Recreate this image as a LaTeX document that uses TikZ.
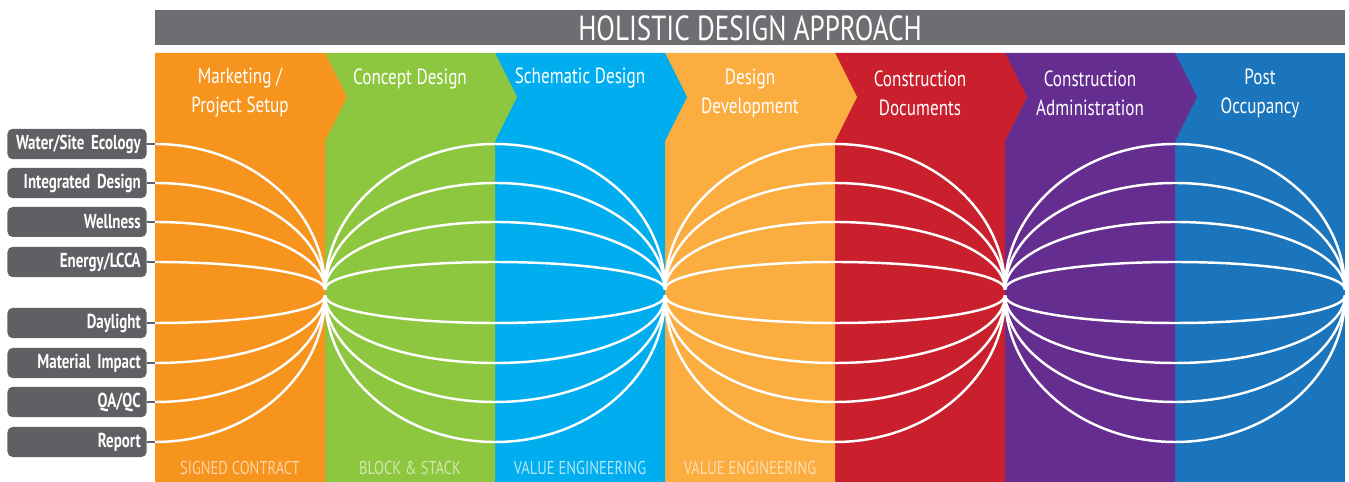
\documentclass[tikz,border=0pt]{standalone}
\usepackage{fontspec}
\setmainfont{PT Sans}
\newfontfamily\condfont[FakeStretch=0.78]{PT Sans}
\newfontfamily\narrowfont[FakeStretch=0.74]{PT Sans}
\usetikzlibrary{calc}
\definecolor{bar}{RGB}{109,110,113}
\definecolor{box}{RGB}{95,96,99}
\definecolor{c1}{RGB}{247,148,30}
\definecolor{c2}{RGB}{141,198,63}
\definecolor{c3}{RGB}{0,174,239}
\definecolor{c4}{RGB}{251,173,64}
\definecolor{c5}{RGB}{202,32,46}
\definecolor{c6}{RGB}{102,45,145}
\definecolor{c7}{RGB}{27,117,188}

\begin{document}
\begin{tikzpicture}[
    x=0.02cm, y=-0.02cm,
    font=\condfont,
    wire/.style={
        line width=1.4pt,
        color=white
    },
    stub/.style={line width=1.2pt, color=box},
    lbl/.style={
        rounded corners=3pt, fill=box, anchor=east,
        minimum width=2.7cm, minimum height=0.6cm,
        text width=2.55cm, align=right, text=white,
        font={\narrowfont\bfseries\fontsize{11.5}{13}\selectfont\fontdimen2\font=1.9pt}
    },
    hd/.style={align=center, text=white,
        font={\condfont\fontsize{12.5}{16.5}\selectfont}},
    ft/.style={font={\condfont\fontsize{10.6}{12}\selectfont}}
]

    \useasboundingbox (0,0) rectangle (1349,482);

    % header bar
    \fill [bar] (155,10) rectangle (1345,45);
    \node [text=white, font={\condfont\fontsize{19.8}{22}\selectfont}] (ttl) at (750,28) {HOLISTIC DESIGN APPROACH};

    % phase columns, drawn right to left so each chevron lies on top
    \fill [c7] (1175,53) rectangle (1345,482);
    \foreach \i/\c in {5/c6,4/c5,3/c4,2/c3,1/c2,0/c1} {
        \pgfmathsetmacro\xa{155+170*\i}
        \fill [\c] (\xa,53) -- ({\xa+170},53) -- ({\xa+192},97) --
            ({\xa+170},141) -- ({\xa+170},482) -- (\xa,482) -- cycle;
    }

    \node [hd] (h1) at ( 240, 93) {Marketing /\\Project Setup};
    \node [hd] (h2) at ( 410, 79) {Concept Design};
    \node [hd] (h3) at ( 580, 78) {Schematic Design};
    \node [hd] (h4) at ( 750, 93) {Design\\Development};
    \node [hd] (h5) at ( 920, 93) {Construction\\Documents};
    \node [hd] (h6) at (1090, 93) {Construction\\Administration};
    \node [hd] (h7) at (1260, 93) {Post\\Occupancy};

    \node [ft, text=c1!40!white] (b1) at (240,468) {SIGNED CONTRACT};
    \node [ft, text=c2!40!white] (b2) at (410,468) {BLOCK \& STACK};
    \node [ft, text=c3!30!white] (b3) at (580,468) {VALUE ENGINEERING};
    \node [ft, text=c4!40!white] (b4) at (750,468) {VALUE ENGINEERING};

    % topic labels
    \node [lbl] (water)  at (147,144) {Water/Site Ecology};
    \node [lbl] (integ)  at (147,183) {Integrated Design};
    \node [lbl] (well)   at (147,222) {Wellness};
    \node [lbl] (energy) at (147,262) {Energy/LCCA};
    \node [lbl] (day)    at (147,323) {Daylight};
    \node [lbl] (mat)    at (147,363) {Material Impact};
    \node [lbl] (qaqc)   at (147,402) {QA/QC};
    \node [lbl] (rep)    at (147,442) {Report};

    \coordinate (fu1) at ( 325,289.5);
    \coordinate (fd1) at ( 325,295.5);
    \coordinate (fu2) at ( 665,289.5);
    \coordinate (fd2) at ( 665,295.5);
    \coordinate (fu3) at (1005,289.5);
    \coordinate (fd3) at (1005,295.5);

    % stubs into the first column, then the quarter curves
    \foreach \n/\r in {water/145.5,integ/106.5,well/67.5,energy/27.5} {
        \coordinate (s-\n) at ($(\n.east)+(8,0)$);
        \draw [stub] (\n.east) -- (s-\n);
        \draw [wire] (s-\n) arc [start angle=270, end angle=360, x radius=170, y radius=\r];
    }
    \foreach \n/\r in {day/27.5,mat/67.5,qaqc/106.5,rep/146.5} {
        \coordinate (s-\n) at ($(\n.east)+(8,0)$);
        \draw [stub] (\n.east) -- (s-\n);
        \draw [wire] (s-\n) arc [start angle=90, end angle=0, x radius=170, y radius=\r];
    }

    % the three globes
    \foreach \f in {1,2,3} {
        \foreach \r in {145.5,106.5,67.5,27.5}
            \draw [wire] (fu\f) arc [start angle=180, end angle=360, x radius=170, y radius=\r];
        \foreach \r in {27.5,67.5,106.5,146.5}
            \draw [wire] (fd\f) arc [start angle=180, end angle=0, x radius=170, y radius=\r];
    }

\end{tikzpicture}
\end{document}
